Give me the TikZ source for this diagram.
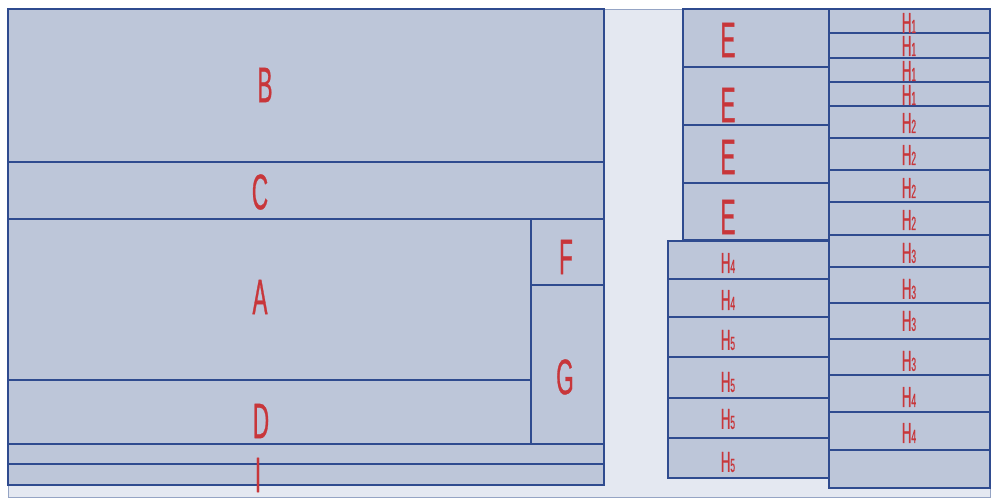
\documentclass[tikz,border=0pt]{standalone}
\usepackage{fontspec}
\newfontfamily\lblfont[FakeStretch=0.45, FakeBold=0.6]{Liberation Sans}
\definecolor{boxfill}{HTML}{BDC6D9}
\definecolor{boxline}{HTML}{2F4B8F}
\definecolor{bgfill}{HTML}{E4E8F1}
\definecolor{bgline}{HTML}{95A4C4}
\definecolor{lblred}{HTML}{C8363A}
\tikzset{
  blk/.style={fill=boxfill, draw=boxline, line width=2pt},
  lblbig/.style={text=lblred, font=\lblfont\fontsize{50}{50}\selectfont, inner sep=0pt},
  lblsmall/.style={text=lblred, font=\lblfont\fontsize{29}{29}\selectfont, inner sep=0pt},
}
\newcommand{\hsub}[1]{H{\fontsize{19}{19}\selectfont #1}}

\begin{document}
\begin{tikzpicture}[x=1pt, y=-1pt]
        \useasboundingbox (0,0) rectangle (995,499);
        % Nền
        \draw[fill=bgfill, draw=bgline, line width=1pt] (8,9) rectangle (990,497);

        % Khối bên trái
        \draw[blk] (8,9) rectangle (604,162);
        \draw[blk] (8,162) rectangle (604,219);
        \draw[blk] (8,219) rectangle (531,380);
        \draw[blk] (531,219) rectangle (604,285);
        \draw[blk] (531,285) rectangle (604,444);
        \draw[blk] (8,380) rectangle (531,444);
        \draw[blk] (8,444) rectangle (604,464);
        \draw[blk] (8,464) rectangle (604,485);

        % Cột E
        \foreach \ya/\yb in {9/67, 67/125, 125/183, 183/240}
            \draw[blk] (683,\ya) rectangle (829,\yb);

        % Cột H bên trái
        \foreach \ya/\yb in {241/279, 279/317, 317/357, 357/398, 398/438, 438/478}
            \draw[blk] (668,\ya) rectangle (829,\yb);

        % Cột H bên phải
        \foreach \ya/\yb in {9/33, 33/58, 58/82, 82/106, 106/138, 138/170, 170/202, 202/235,
                             235/267, 267/303, 303/339, 339/375, 375/412, 412/450, 450/488}
            \draw[blk] (829,\ya) rectangle (990,\yb);

        % Nhãn lớn
        \node[lblbig] (lB) at (265,85) {B};
        \node[lblbig] (lC) at (260,192) {C};
        \node[lblbig] (lA) at (260,297) {A};
        \node[lblbig] (lD) at (261,421) {D};
        \node[lblbig] (lI) at (258,475) {I};
        \node[lblbig] (lF) at (566,257) {F};
        \node[lblbig] (lG) at (565,377) {G};

        % Nhãn E
        \foreach \y [count=\i] in {40, 105, 157, 217}
            \node[lblbig] (lE\i) at (728,\y) {E};

        % Nhãn H
        \foreach \y/\t [count=\i] in {263/4, 300/4, 340/5, 382/5, 419/5, 462/5}
            \node[lblsmall] (hl\i) at (728,\y) {\hsub{\t}};
        \foreach \y/\t [count=\i] in {23/1, 46/1, 71/1, 95/1, 123/2, 155/2, 188/2, 220/2,
                                      253/3, 289/3, 321/3, 361/3, 397/4, 433/4}
            \node[lblsmall] (hr\i) at (909,\y) {\hsub{\t}};
    \end{tikzpicture}
\end{document}
